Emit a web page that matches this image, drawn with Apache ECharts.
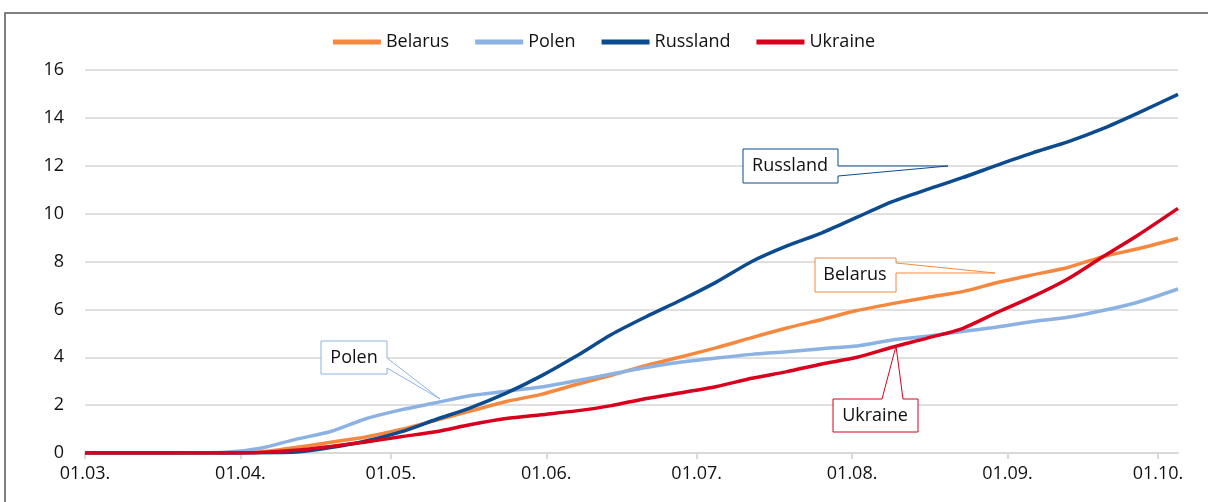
<!DOCTYPE html>
<html>
<head>
<meta charset="utf-8">
<script src="https://cdn.jsdelivr.net/npm/echarts@6/dist/echarts.min.js"></script>
<style>
  html, body { margin: 0; padding: 0; background: #fff; }
  #chart { width: 1208px; height: 502px; }
</style>
</head>
<body>
<div id="chart"></div>
<script>
const sampleDates = ['01.03.', '15.03.', '29.03.', '05.04.', '12.04.', '19.04.', '26.04.', '03.05.', '10.05.', '17.05.',
  '24.05.', '31.05.', '07.06.', '14.06.', '21.06.', '28.06.', '05.07.', '12.07.', '19.07.', '26.07.',
  '02.08.', '09.08.', '16.08.', '23.08.', '30.08.', '06.09.', '13.09.', '20.09.', '27.09.', '05.10.'];

const belarus = [0, 0, 0, 0.04, 0.23, 0.45, 0.67, 0.98, 1.37, 1.76,
  2.15, 2.45, 2.86, 3.25, 3.66, 4.02, 4.4, 4.82, 5.22, 5.58,
  5.95, 6.24, 6.5, 6.74, 7.12, 7.44, 7.75, 8.2, 8.53, 8.97];
const polen = [0, 0, 0.03, 0.2, 0.57, 0.9, 1.43, 1.8, 2.1, 2.4,
  2.58, 2.76, 3.02, 3.3, 3.57, 3.8, 3.97, 4.12, 4.23, 4.36,
  4.47, 4.72, 4.88, 5.08, 5.26, 5.49, 5.67, 5.95, 6.3, 6.85];
const russland = [0, 0, 0, 0.01, 0.04, 0.23, 0.5, 0.88, 1.4, 1.9,
  2.5, 3.22, 4.05, 4.95, 5.7, 6.4, 7.15, 8.0, 8.65, 9.2,
  9.85, 10.5, 11.01, 11.5, 12.03, 12.54, 13.0, 13.55, 14.2, 14.98];
const ukraine = [0, 0, 0, 0.02, 0.11, 0.27, 0.46, 0.68, 0.89, 1.19,
  1.44, 1.6, 1.76, 1.98, 2.28, 2.52, 2.78, 3.12, 3.4, 3.72,
  4.0, 4.42, 4.8, 5.2, 5.88, 6.53, 7.27, 8.2, 9.1, 10.22];

const yTicks = [0, 16, 2]; // min, max, Schritt

// Tagesachse 01.03. bis 05.10.
const days = [];
for (let t = Date.UTC(2020, 2, 1); t <= Date.UTC(2020, 9, 5); t += 86400000) {
  const d = new Date(t);
  days.push(String(d.getUTCDate()).padStart(2, '0') + '.' + String(d.getUTCMonth() + 1).padStart(2, '0') + '.');
}
const isMonthStart = (i, v) => v.startsWith('01.');
const toPairs = vals => sampleDates.map((d, i) => [d, vals[i]]);

const FONT = '"Open Sans", "Noto Sans", sans-serif';

function makeLine(name, vals, color) {
  return {
    name: name,
    type: 'line',
    data: toPairs(vals),
    showSymbol: false,
    smooth: 0.25,
    lineStyle: { color: color, width: 3.5 },
    itemStyle: { color: color },
  };
}

// Beschriftungskästen mit Zeiger
function callout(points, color, text, tx, ty) {
  return [
    {
      type: 'polygon', z: 100,
      shape: { points: points },
      style: { fill: '#fff', stroke: color, lineWidth: 1 },
    },
    {
      type: 'text', z: 101, x: tx, y: ty,
      style: { text: text, fill: '#111', font: '18px ' + FONT, align: 'center', verticalAlign: 'middle' },
    },
  ];
}

const chart = echarts.init(document.getElementById('chart'));

chart.setOption({
  animation: false,
  textStyle: { fontFamily: FONT },
  legend: {
    top: 28,
    left: 'center',
    icon: 'rect',
    itemWidth: 48,
    itemHeight: 5,
    itemGap: 26,
    textStyle: { fontSize: 18, color: '#111', fontFamily: FONT },
    data: ['Belarus', 'Polen', 'Russland', 'Ukraine'],
  },
  grid: { left: 85, right: 30, top: 70, bottom: 49 },
  xAxis: {
    type: 'category',
    data: days,
    boundaryGap: false,
    axisLine: { lineStyle: { color: '#d9d9d9', width: 2 } },
    axisTick: { interval: isMonthStart, length: 6, lineStyle: { color: '#d9d9d9', width: 2 } },
    axisLabel: { interval: isMonthStart, color: '#111', fontSize: 18, margin: 12, fontFamily: FONT },
    splitLine: { show: false },
  },
  yAxis: {
    type: 'value',
    min: yTicks[0],
    max: yTicks[1],
    interval: yTicks[2],
    axisLine: { show: false },
    axisTick: { show: false },
    axisLabel: { color: '#111', fontSize: 18, margin: 21, fontFamily: FONT },
    splitLine: { lineStyle: { color: '#e0e0e0', width: 2 } },
  },
  series: [
    makeLine('Belarus', belarus, '#f5883f'),
    makeLine('Polen', polen, '#8cb2e3'),
    makeLine('Russland', russland, '#0b4b8e'),
    makeLine('Ukraine', ukraine, '#d9001d'),
  ],
  graphic: [
    { type: 'rect', z: 90, shape: { x: 5, y: 13, width: 1400, height: 700 },
      style: { fill: 'none', stroke: '#555', lineWidth: 1.5 } },
    ...callout([[321, 341], [387, 341], [387, 358], [440, 399], [387, 368], [387, 374], [321, 374]],
      '#8cb2e3', 'Polen', 354, 358),
    ...callout([[743, 149], [838, 149], [838, 166], [948, 166], [838, 176], [838, 183], [743, 183]],
      '#0b4b8e', 'Russland', 790, 166),
    ...callout([[815, 258], [896, 258], [896, 263], [995, 273], [896, 273], [896, 292], [815, 292]],
      '#f5883f', 'Belarus', 855, 275),
    ...callout([[833, 399], [882, 399], [896, 346], [903, 399], [918, 399], [918, 432], [833, 432]],
      '#d9001d', 'Ukraine', 875, 416),
  ],
});
</script>
</body>
</html>
